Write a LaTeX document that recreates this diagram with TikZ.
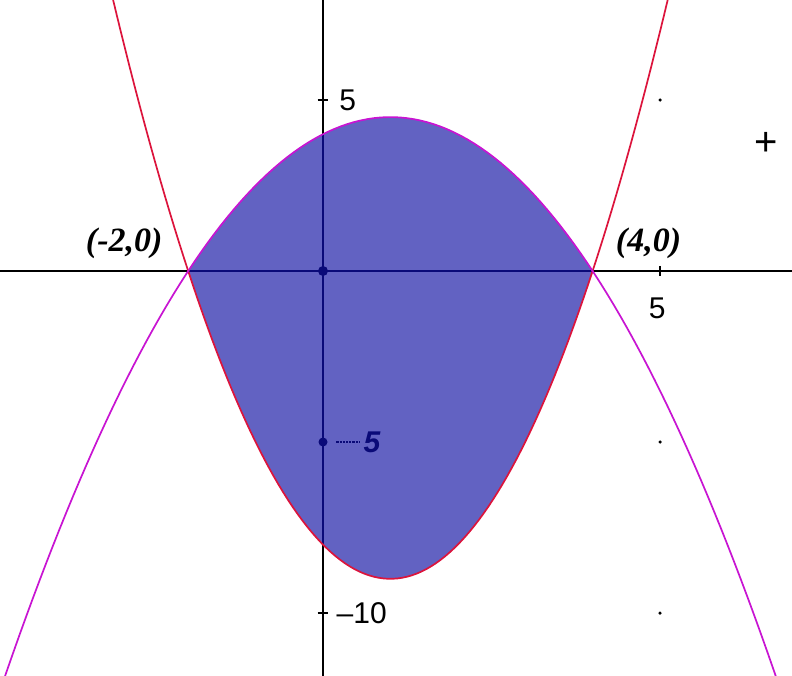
\documentclass[tikz,border=0pt]{standalone}
\usepackage{fontspec}
\setmainfont{Liberation Serif}
\newfontfamily\lsans{Liberation Sans}
\definecolor{fillblue}{RGB}{98,98,194}
\definecolor{axnavy}{RGB}{10,10,120}
\definecolor{redc}{RGB}{220,20,60}
\definecolor{magc}{RGB}{200,20,210}
\tikzset{
  ptlabel/.style={font=\fontsize{34}{34}\selectfont\bfseries\itshape},
  numlabel/.style={font=\lsans\fontsize{30}{30}\selectfont},
  curve/.style={line width=1.7pt},
  gdot/.style={fill=black,circle,inner sep=0pt,minimum size=3.5pt}
}
\begin{document}
\begin{tikzpicture}[x=1pt,y=-1pt]
\useasboundingbox (0,0) rectangle (792,675);
\clip (0,0) rectangle (792,675);
\fill[white] (0,0) rectangle (792,675);
\begin{scope}[shift={(323,271)},x=67.4pt,y=34.2pt]
  % axes
  \draw[black,line width=1.6pt] (-4.8,0) -- (7,0);
  \draw[black,line width=1.6pt] (0,8) -- (0,-12);
  % region
  \fill[fillblue] plot[domain=-2:4,samples=80] (\x,{-(\x+2)*(\x-4)/2})
     -- plot[domain=4:-2,samples=80] (\x,{(\x+2)*(\x-4)}) -- cycle;
  % axes inside region
  \draw[axnavy,line width=2pt] (-2,0) -- (4,0);
  \draw[axnavy,line width=2pt] (0,4) -- (0,-8);
  \draw[axnavy,line width=2.2pt,densely dotted] (0.2,-5) -- (0.55,-5);
  \node[circle,fill=axnavy,inner sep=0pt,minimum size=10pt] (o) at (0,0) {};
  \node[circle,fill=axnavy,inner sep=0pt,minimum size=9pt] (m5) at (0,-5) {};
  % curves
  \draw[redc,curve] plot[domain=-3.2:5.2,samples=120] (\x,{(\x+2)*(\x-4)});
  \draw[magc,curve] plot[domain=-4.9:6.9,samples=120] (\x,{-(\x+2)*(\x-4)/2});
  % ticks
  \draw[black,line width=1.6pt] (-0.08,5) -- (0.08,5);
  \draw[black,line width=1.6pt] (-0.08,-10) -- (0.08,-10);
  \draw[black,line width=1.6pt] (5,0.15) -- (5,-0.15);
  % grid dots
  \node[gdot] (g1) at (5,5) {};
  \node[gdot] (g2) at (5,-5) {};
  \node[gdot] (g3) at (5,-10) {};
  % labels
  \node[ptlabel] (pa) at (-2.95,0.82) {(-2,0)};
  \node[ptlabel] (pb) at (4.83,0.82) {(4,0)};
  \node[numlabel,anchor=west,inner sep=0pt] (l5) at (0.24,5) {5};
  \node[numlabel,inner sep=0pt] (x5) at (4.96,-1.08) {5};
  \node[numlabel,anchor=west,inner sep=0pt] (l10) at (0.2,-10) {\textendash10};
  \node[numlabel,anchor=west,inner sep=0pt,text=axnavy] (l5n) at (0.6,-5) {\bfseries\itshape 5};
  \node[font=\lsans\fontsize{40}{40}\selectfont,inner sep=0pt] (plus) at (6.57,3.71) {+};
\end{scope}
\end{tikzpicture}
\end{document}
